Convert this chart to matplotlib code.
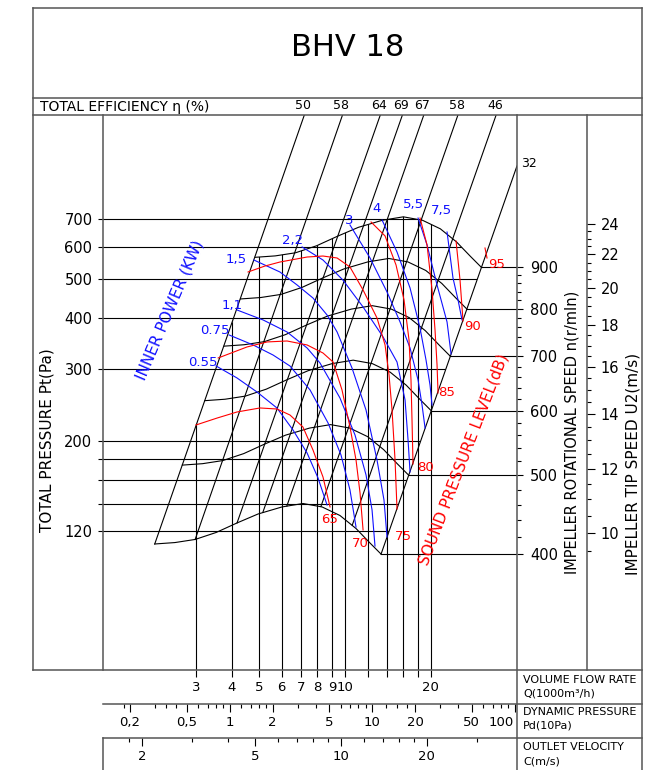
"""
BHV 18 fan performance chart
----------------------------
Log-log chart of total pressure vs. volume flow with speed curves,
efficiency lines, inner power (blue) and sound level (red) lines,
plus the auxiliary scales around it. Saves out.png.
"""
import numpy as np
import matplotlib
matplotlib.use("Agg")
import matplotlib.pyplot as plt
from matplotlib.patches import Polygon
from matplotlib.ticker import NullLocator, NullFormatter

W, H = 658, 770
FRAME = "#555555"
LW = 0.8

# fan curve at the base speed, Q in 1000 m3/h, Pt in Pa
BASE_RPM = 400
BASE_Q = [2.15, 2.53, 2.98, 3.53, 4.18, 4.95, 6.01, 7.12, 8.31, 9.60, 10.93, 12.24, 13.38]
BASE_P = [111.5, 112.4, 114.4, 119.0, 125.6, 132.1, 137.5, 140.2, 137.5, 131.0, 121.7, 112.1, 105.3]
SPEEDS = [400, 500, 600, 700, 800, 900]
IMPELLER_D = 0.45  # m

# efficiency lines: foot on the 400 curve, head at the top of the chart
EFF_LABELS = ["50", "58", "64", "69", "67", "58", "46", "32"]
EFF_Q_LOW = [2.15, 2.98, 4.18, 5.15, 6.25, 8.23, 10.6, 13.38]
EFF_P_LOW = [111.5, 114.4, 125.6, 133.4, 138.2, 137.8, 124.0, 105.3]
EFF_Q_HIGH = [7.2, 9.8, 13.3, 15.9, 18.9, 24.9, 33.9, 40.1]
EFF_P_HIGH = [1263, 1263, 1263, 1263, 1263, 1263, 1263, 946]

# inner power lines (kW)
POWER_LABELS = ["0.55", "0.75", "1,1", "1,5", "2,2", "3", "4", "5,5", "7,5"]
POWER_Q = [
    [3.53, 4.18, 4.91, 5.77, 6.57, 7.36, 8.04, 8.65],
    [3.92, 4.76, 5.59, 6.41, 7.54, 8.72, 9.68, 10.41, 10.93],
    [4.18, 5.16, 6.26, 7.36, 8.17, 9.60, 10.84, 11.85, 12.44, 12.74],
    [4.79, 5.91, 6.79, 7.72, 8.65, 9.38, 10.58, 11.85, 12.95, 13.70, 14.04],
    [7.07, 8.37, 9.84, 11.57, 13.60, 15.22, 16.24, 16.64, 16.91],
    [10.41, 12.24, 14.04, 15.60, 16.91, 18.04, 18.63, 19.09],
    [13.49, 15.22, 16.91, 18.33, 19.24, 19.87, 20.20],
    [18.04, 19.40, 21.03, 22.80, 23.55],
    [22.80, 23.92, 24.92, 25.73],
]
POWER_P = [
    [305.2, 285.2, 263.5, 240.7, 212.5, 186.6, 162.0, 139.0],
    [363.8, 343.8, 324.8, 305.2, 266.5, 221.1, 184.5, 151.3, 122.7],
    [419.0, 396.0, 370.0, 338.0, 310.5, 254.7, 206.6, 164.8, 135.2, 110.2],
    [555.9, 519.5, 482.7, 448.4, 407.3, 370.0, 301.8, 237.9, 179.3, 143.0, 116.0],
    [598.4, 555.9, 496.0, 426.2, 359.7, 312.2, 251.9, 200.8, 167.6],
    [677.8, 562.3, 463.9, 391.5, 338.0, 282.0, 244.8, 214.9],
    [697.0, 581.7, 474.6, 378.4, 315.7, 274.1, 244.8],
    [705.0, 605.2, 482.7, 391.5, 326.7],
    [651.3, 502.2, 443.4, 396.0],
]
POWER_LABEL_Q = [3.18, 3.50, 4.01, 4.15, 6.57, 10.33, 12.95, 17.32, 21.72]
POWER_LABEL_P = [310.5, 372.1, 430.9, 559.1, 622.5, 693.3, 742.0, 759.0, 737.6]

# sound pressure level lines (dB)
SOUND_LABELS = ["65", "70", "75", "80", "85", "90", "95"]
SOUND_Q = [
    [3.00, 3.56, 4.18, 5.03, 5.77, 6.41, 7.12, 7.72, 8.37, 8.86],
    [3.59, 4.53, 5.33, 6.26, 7.36, 8.37, 9.08, 9.76, 10.41, 10.93, 11.29, 11.57],
    [4.57, 5.24, 5.91, 7.36, 8.37, 9.38, 10.41, 11.57, 12.95, 13.82, 14.27, 14.62, 14.98, 15.22],
    [12.34, 13.82, 15.10, 16.11, 16.77, 17.04, 17.18, 17.32],
    [18.33, 19.40, 20.20, 20.69, 21.03, 21.20],
    [24.52, 25.32, 25.94],
    [30.98, 31.49],
]
SOUND_P = [
    [218.6, 227.4, 235.3, 240.7, 239.3, 231.3, 216.1, 189.8, 162.9, 137.5],
    [319.4, 339.9, 349.7, 351.6, 343.8, 328.5, 312.2, 266.5, 216.1, 179.3, 148.8, 120.7],
    [519.5, 537.4, 549.6, 565.4, 568.6, 562.3, 534.3, 469.2, 400.4, 343.8, 290.1, 237.9, 179.3, 135.9],
    [689.3, 637.0, 540.4, 443.4, 353.6, 282.0, 224.9, 175.3],
    [705.0, 605.2, 469.2, 374.2, 307.0, 262.0],
    [619.0, 496.5, 393.8],
    [595.0, 562.3],
]
SOUND_LABEL_Q = [8.86, 11.29, 15.98, 19.09, 22.80, 27.90, 34.15]
SOUND_LABEL_P = [128.4, 111.5, 116.0, 171.4, 262.0, 382.7, 543.4]

# grid and scales
Q_GRID = [3, 4, 5, 6, 7, 8, 9, 10, 12, 14, 16, 18, 20]
Q_GRID_LABELS = ["3", "4", "5", "6", "7", "8", "9", "10", "", "", "", "", "20"]
P_GRID = [120, 140, 160, 180, 200, 300, 400, 500, 600, 700]
P_GRID_LABELS = ["120", "", "", "", "200", "300", "400", "500", "600", "700"]
PD_MAJOR = [0.2, 0.5, 1, 2, 5, 10, 20, 50, 100]
PD_LABELS = ["0,2", "0,5", "1", "2", "5", "10", "20", "50", ""]
PD_LAST_LABEL = "100"
PD_MINOR = [0.18, 0.3, 0.36, 0.42, 0.6, 0.7, 0.8, 0.9, 1.2, 1.4, 1.6, 1.8,
            3, 4, 6, 7, 8, 9, 12.5, 15, 17.5, 30, 40, 60, 70, 80, 90]
VEL_MAJOR = [2, 5, 10, 20]
VEL_MINOR = [1.8, 3, 4, 6, 7, 8, 9, 12, 14, 16, 18, 30]
RPM_MAJOR = [400, 500, 600, 700, 800, 900]
RPM_MINOR = [r for r in range(420, 900, 20) if r % 100]
U2_MAJOR = [10, 12, 14, 16, 18, 20, 22, 24]
U2_MINOR = [u / 2 for u in range(19, 48) if u % 4]

Q_MIN, Q_MAX = 1.4156, 40.12
P_MIN, P_MAX = 54.66, 1262.7
PD_Q1 = 3.94      # flow at Pd = 1 (10Pa)
VEL_Q1 = 0.968    # flow per 1 m/s outlet velocity


def q_to_pd(q):
    return (np.asarray(q, dtype=float) / PD_Q1) ** 2


def pd_to_q(pd):
    return PD_Q1 * np.sqrt(np.abs(pd))


def q_to_vel(q):
    return np.asarray(q, dtype=float) / VEL_Q1


def vel_to_q(c):
    return np.asarray(c, dtype=float) * VEL_Q1


def p_to_rpm(p):
    return BASE_RPM * np.sqrt(np.abs(p) / BASE_P[-1])


def rpm_to_p(n):
    return BASE_P[-1] * (np.asarray(n, dtype=float) / BASE_RPM) ** 2


def p_to_u2(p):
    return np.pi * IMPELLER_D * p_to_rpm(p) / 60


def u2_to_p(u):
    return rpm_to_p(np.asarray(u, dtype=float) * 60 / (np.pi * IMPELLER_D))


def style_secondary(sec, axis, major, labels, minor, major_len, labelsize, pad):
    sec.set_ticks(major, labels=labels)
    sec.set_ticks(minor, minor=True)
    axis.set_minor_formatter(NullFormatter())
    sec.tick_params(which="major", length=major_len, width=0.8, labelsize=labelsize, pad=pad)
    sec.tick_params(which="minor", length=2.9, width=0.8)
    for s in sec.spines.values():
        s.set_visible(False)


def main():
    fig = plt.figure(figsize=(W / 100, H / 100), dpi=100)
    ax = fig.add_axes([103 / W, 1 - 670 / H, 414 / W, 555 / H])
    ax.set_xscale("log")
    ax.set_yscale("log")
    ax.set_xlim(Q_MIN, Q_MAX)
    ax.set_ylim(P_MIN, P_MAX)
    for s in ax.spines.values():
        s.set_visible(False)

    base_q = np.array(BASE_Q)
    base_p = np.array(BASE_P)
    top_r = SPEEDS[-1] / BASE_RPM
    top_q, top_p = base_q * top_r, base_p * top_r ** 2

    # clip regions: below the chart envelope (verticals), left of it (horizontals)
    vclip = Polygon(np.column_stack([
        np.r_[base_q[0], base_q[0], top_q, top_q[-1]],
        np.r_[10, base_p[0], top_p, 10]]),
        closed=True, transform=ax.transData, facecolor="none", edgecolor="none")
    ipk = int(np.argmax(top_p))
    hclip = Polygon(np.column_stack([
        np.r_[0.5, top_q[ipk], top_q[ipk:], base_q[-1], base_q[-1], 0.5],
        np.r_[5000, 5000, top_p[ipk:], base_p[-1], 10, 10]]),
        closed=True, transform=ax.transData, facecolor="none", edgecolor="none")
    ax.add_patch(vclip)
    ax.add_patch(hclip)

    for q in Q_GRID:
        ln, = ax.plot([q, q], [10, 5000], color="black", lw=LW, zorder=1)
        ln.set_clip_path(vclip)
    for p in P_GRID:
        ln, = ax.plot([0.5, 100], [p, p], color="black", lw=LW, zorder=1)
        ln.set_clip_path(hclip)

    # speed curves and the speed lines to the right scale
    for n in SPEEDS:
        r = n / BASE_RPM
        q, p = base_q * r, base_p * r ** 2
        ax.plot(q, p, color="black", lw=LW, zorder=2)
        ax.plot([q[-1], Q_MAX], [p[-1], p[-1]], color="black", lw=LW, zorder=2)

    # efficiency lines
    for lab, ql, pl, qh, ph in zip(EFF_LABELS, EFF_Q_LOW, EFF_P_LOW, EFF_Q_HIGH, EFF_P_HIGH):
        ax.plot([ql, qh], [pl, ph], color="black", lw=LW, zorder=2)
        if lab == "32" and ph < P_MAX:
            ax.annotate(lab, xy=(qh, ph), xytext=(3, 2), textcoords="offset points",
                        ha="left", va="center", fontsize=9, annotation_clip=False)
        else:
            ax.annotate(lab, xy=(qh, 1), xycoords=("data", "axes fraction"),
                        xytext=(-1, 6.5), textcoords="offset points",
                        ha="center", va="center", fontsize=9, annotation_clip=False)

    # inner power and sound level lines
    for q, p in zip(POWER_Q, POWER_P):
        ax.plot(q, p, color="#1010ff", lw=LW, zorder=3)
    for lab, q, p in zip(POWER_LABELS, POWER_LABEL_Q, POWER_LABEL_P):
        ax.text(q, p, lab, color="#1010ff", fontsize=9.5, ha="center", va="center", zorder=4)
    for q, p in zip(SOUND_Q, SOUND_P):
        ax.plot(q, p, color="#ff0000", lw=LW, zorder=3)
    for lab, q, p in zip(SOUND_LABELS, SOUND_LABEL_Q, SOUND_LABEL_P):
        ax.text(q, p, lab, color="#ff0000", fontsize=9.5, ha="center", va="center", zorder=4)

    # main scales
    ax.set_xticks(Q_GRID)
    ax.set_xticklabels(Q_GRID_LABELS)
    ax.set_yticks(P_GRID)
    ax.set_yticklabels(P_GRID_LABELS)
    ax.xaxis.set_minor_locator(NullLocator())
    ax.yaxis.set_minor_locator(NullLocator())
    ax.tick_params(axis="x", direction="out", length=5, width=0.8, labelsize=9.5, pad=3)
    ax.tick_params(axis="y", direction="out", length=3.6, width=0.8, labelsize=10.5, pad=4)

    sec_pd = ax.secondary_xaxis(-34 / 555, functions=(q_to_pd, pd_to_q))
    style_secondary(sec_pd, sec_pd.xaxis, PD_MAJOR, PD_LABELS, PD_MINOR, 5.8, 9.5, 3)
    sec_c = ax.secondary_xaxis(-68 / 555, functions=(q_to_vel, vel_to_q))
    style_secondary(sec_c, sec_c.xaxis, VEL_MAJOR, [str(v) for v in VEL_MAJOR], VEL_MINOR,
                    5.8, 9.5, 3)
    sec_n = ax.secondary_yaxis("right", functions=(p_to_rpm, rpm_to_p))
    style_secondary(sec_n, sec_n.yaxis, RPM_MAJOR, [str(v) for v in RPM_MAJOR], RPM_MINOR,
                    4.3, 10.5, 5)
    sec_u = ax.secondary_yaxis(484 / 414, functions=(p_to_u2, u2_to_p))
    style_secondary(sec_u, sec_u.yaxis, U2_MAJOR, [str(v) for v in U2_MAJOR], U2_MINOR,
                    5.8, 10.5, 4)

    ax.set_xlim(Q_MIN, Q_MAX)
    ax.set_ylim(P_MIN, P_MAX)

    # frame, header and side texts in pixel space
    ov = fig.add_axes([0, 0, 1, 1])
    ov.set_xlim(0, W)
    ov.set_ylim(H, 0)
    ov.axis("off")
    ov.set_zorder(10)
    segs = [
        ((33, 8), (642, 8)), ((33, 8), (33, 670)), ((642, 8), (642, 770)),
        ((33, 98), (642, 98)), ((33, 115), (642, 115)), ((33, 670), (642, 670)),
        ((103, 704), (642, 704)), ((103, 738), (642, 738)),
        ((103, 115), (103, 670)), ((103, 738), (103, 770)),
        ((517, 115), (517, 770)), ((587, 115), (587, 670)),
    ]
    for (x0, y0), (x1, y1) in segs:
        ov.plot([x0, x1], [y0, y1], color=FRAME, lw=1.1)

    # last Pd label sits left of its tick, against the column line
    ov.text(514, 722, PD_LAST_LABEL, fontsize=9.5, ha="right", va="center")

    ov.text(348, 48, "BHV 18", fontsize=22, ha="center", va="center")
    ov.text(40, 106.5, "TOTAL EFFICIENCY η (%)", fontsize=10, ha="left", va="center")
    ov.text(47, 440, "TOTAL PRESSURE Pt(Pa)", fontsize=11, rotation=90,
            ha="center", va="center")
    ov.text(572, 432, "IMPELLER ROTATIONAL SPEED n(r/mIn)", fontsize=10.5, rotation=90,
            ha="center", va="center")
    ov.text(633, 464, "IMPELLER TIP SPEED U2(m/s)", fontsize=11, rotation=90,
            ha="center", va="center")
    ov.text(170, 310, "INNER POWER (KW)", fontsize=11, rotation=67, color="#1010ff",
            ha="center", va="center")
    ov.text(464, 459, "SOUND PRESSURE LEVEL(dB)", fontsize=11, rotation=69, color="#ff0000",
            ha="center", va="center")
    rows = [(680, "VOLUME FLOW RATE"), (694, "Q(1000m³/h)"),
            (712, "DYNAMIC PRESSURE"), (726, "Pd(10Pa)"),
            (747, "OUTLET VELOCITY"), (761, "C(m/s)")]
    for y, t in rows:
        ov.text(523, y, t, fontsize=8, ha="left", va="center")

    fig.savefig("out.png", dpi=100)
    plt.close(fig)


if __name__ == "__main__":
    main()
